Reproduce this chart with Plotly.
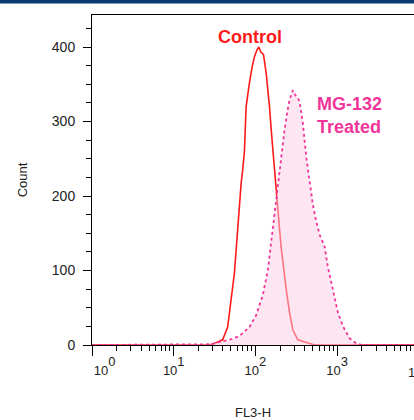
import plotly.graph_objects as go

# ---- data ----
control_fl3 = [1, 27.3, 33, 39.7, 45.7, 50.3, 55.2, 58, 60.6, 63.6, 66.8, 69.8, 73.3, 76.9,
               80.5, 84.4, 90.6, 97.2, 104.3, 109.7, 116.7, 125.3, 135.3, 141.6, 148.5,
               155.9, 163, 171, 179.5, 187.8, 197, 206.7, 216.3, 238.2, 261.4, 287, 330,
               419, 530, 10000]
control_count = [0, 0, 3, 7, 24, 60, 96, 127, 155, 192, 217, 235, 260, 320,
                 340, 352, 372, 387, 396, 400, 393, 390, 365, 345, 320,
                 289, 262, 231, 210, 185, 156, 130, 110, 74, 43, 20, 7,
                 3, 0, 0]

treated_fl3 = [1, 23.7, 28.8, 36.1, 48, 63.6, 84.4, 102, 123, 141.6, 155.9, 171, 187.8,
               206.7, 227, 247, 261.4, 287, 305.5, 330, 346.6, 380, 419, 460, 505, 556,
               610, 703, 771, 888, 1023, 1178, 1422, 1721, 1999, 10000]
treated_count = [0, 0, 1, 4, 7, 12, 24, 40, 67, 100, 139, 177, 217,
                 255, 289, 315, 329, 342, 336, 331, 327, 298, 252, 220, 188, 165,
                 148, 132, 104, 74, 43, 25, 9, 2, 0, 0]

x_tickvals = [1, 10, 100, 1000]
x_exponents = ["0", "1", "2", "3", "4"]
y_tickvals = [0, 100, 200, 300, 400]

RED = "#ff1a1a"
PINK = "#f0359a"
FONT = "Arial, Liberation Sans, sans-serif"
TXT = "#222222"


def pow_label(e):
    return "10<span style='baseline-shift:9px'>" + e + "</span>"


x_ticktext = [pow_label(e) for e in x_exponents[:4]]
x_ticktext[0] = "\u00a0" * 7 + x_ticktext[0]

minor_x = [m * 10 ** e for e in range(0, 4) for m in range(2, 10)]

fig = go.Figure()
fig.add_trace(go.Scatter(
    x=control_fl3, y=control_count, mode="lines", name="Control",
    line=dict(color=RED, width=1.6), showlegend=False, hoverinfo="skip"))
fig.add_trace(go.Scatter(
    x=treated_fl3, y=treated_count, mode="lines", name="MG-132 Treated",
    line=dict(color=PINK, width=1.8, dash="dot"), fill="tozeroy",
    fillcolor="rgba(252,205,229,0.5)", showlegend=False, hoverinfo="skip"))

fig.update_layout(
    width=414, height=420,
    margin=dict(l=92, r=0, t=15, b=75),
    paper_bgcolor="white", plot_bgcolor="white",
    font=dict(family=FONT, size=13, color=TXT),
    xaxis=dict(
        type="log", range=[0, 3.94], automargin=False,
        showline=True, linecolor="black", linewidth=1, mirror=True,
        showgrid=False, zeroline=False,
        tickmode="array", tickvals=x_tickvals, ticktext=x_ticktext,
        ticks="outside", ticklen=10, tickcolor="black", tickwidth=1,
        ticklabelstandoff=3,
        tickfont=dict(size=13, color=TXT),
        minor=dict(tickmode="array", tickvals=minor_x, ticks="outside",
                   ticklen=5, tickcolor="black", tickwidth=1, showgrid=False),
        title=dict(text="FL3-H", standoff=37, font=dict(size=13, color=TXT)),
    ),
    yaxis=dict(
        range=[0, 443], automargin=False,
        showline=True, linecolor="black", linewidth=1, mirror=False,
        showgrid=False, zeroline=False,
        tickmode="array", tickvals=y_tickvals,
        ticks="outside", ticklen=8, tickcolor="black", tickwidth=1,
        ticklabelstandoff=5,
        tickfont=dict(size=14, color=TXT),
        minor=dict(dtick=25, ticks="outside", ticklen=5, tickcolor="black",
                   tickwidth=1, showgrid=False),
        title=dict(text="Count", standoff=21, font=dict(size=13, color=TXT)),
    ),
    shapes=[dict(type="rect", xref="paper", yref="paper",
                 x0=-0.3, x1=1.01, y0=1.0348, y1=1.06,
                 fillcolor="rgb(10,58,112)", line=dict(width=0), layer="above")],
    annotations=[
        dict(text="<b>Control</b>", xref="paper", yref="paper", x=0.4907, y=0.9333,
             xanchor="center", yanchor="middle", showarrow=False,
             font=dict(family=FONT, size=18, color=RED)),
        dict(text="<b>MG-132<br>Treated</b>", xref="paper", yref="paper",
             x=0.6925, y=0.768, xanchor="left", yanchor="top", align="left",
             showarrow=False, font=dict(family=FONT, size=18, color=PINK)),
        dict(text=pow_label(x_exponents[4]), xref="paper", yref="y domain",
             x=(419 - 92) / 322, y=0, yshift=-9, xanchor="center", yanchor="top",
             showarrow=False, font=dict(size=13, color=TXT)),
    ],
)

fig.write_html("out.html",
               config={"displayModeBar": False},
               post_script="document.body.style.margin='0';")
